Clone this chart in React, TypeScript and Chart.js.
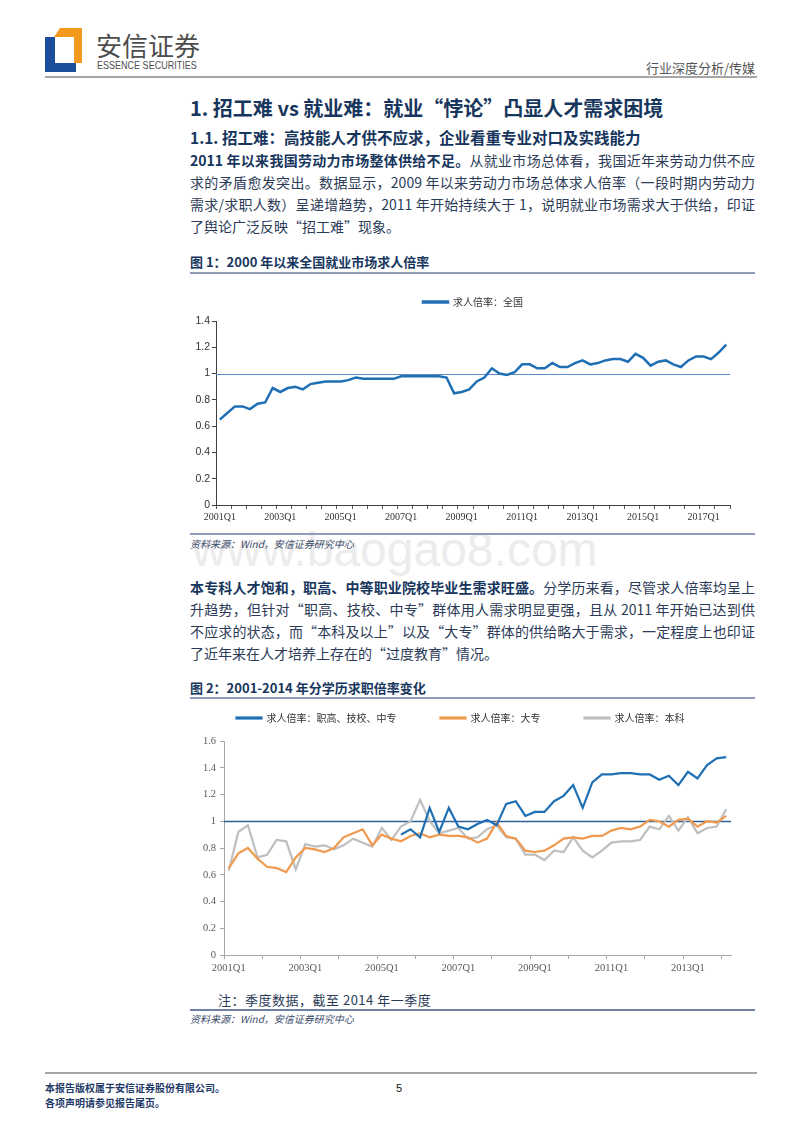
import React, { useEffect, useRef } from "react";
import { Chart, registerables } from "chart.js";

Chart.register(...registerables);

// ---------------- data ----------------
const QUARTERS: string[] = [
  "2001Q1", "2001Q2", "2001Q3", "2001Q4",
  "2002Q1", "2002Q2", "2002Q3", "2002Q4",
  "2003Q1", "2003Q2", "2003Q3", "2003Q4",
  "2004Q1", "2004Q2", "2004Q3", "2004Q4",
  "2005Q1", "2005Q2", "2005Q3", "2005Q4",
  "2006Q1", "2006Q2", "2006Q3", "2006Q4",
  "2007Q1", "2007Q2", "2007Q3", "2007Q4",
  "2008Q1", "2008Q2", "2008Q3", "2008Q4",
  "2009Q1", "2009Q2", "2009Q3", "2009Q4",
  "2010Q1", "2010Q2", "2010Q3", "2010Q4",
  "2011Q1", "2011Q2", "2011Q3", "2011Q4",
  "2012Q1", "2012Q2", "2012Q3", "2012Q4",
  "2013Q1", "2013Q2", "2013Q3", "2013Q4",
  "2014Q1", "2014Q2", "2014Q3", "2014Q4",
  "2015Q1", "2015Q2", "2015Q3", "2015Q4",
  "2016Q1", "2016Q2", "2016Q3", "2016Q4",
  "2017Q1", "2017Q2", "2017Q3", "2017Q4",
];

const NATIONAL_LABEL = "求人倍率：全国";
const NATIONAL_RATIO: number[] = [
  0.65, 0.70, 0.75, 0.75,
  0.73, 0.77, 0.78, 0.89,
  0.86, 0.89, 0.90, 0.88,
  0.92, 0.93, 0.94, 0.94,
  0.94, 0.95, 0.97, 0.96,
  0.96, 0.96, 0.96, 0.96,
  0.98, 0.98, 0.98, 0.98,
  0.98, 0.98, 0.97, 0.85,
  0.86, 0.88, 0.94, 0.97,
  1.04, 1.00, 0.99, 1.01,
  1.07, 1.07, 1.04, 1.04,
  1.08, 1.05, 1.05, 1.08,
  1.10, 1.07, 1.08, 1.10,
  1.11, 1.11, 1.09, 1.15,
  1.12, 1.06, 1.09, 1.10,
  1.07, 1.05, 1.10, 1.13,
  1.13, 1.11, 1.16, 1.22,
];

// 2001Q1 – 2014Q1
const EDU_QUARTERS: string[] = QUARTERS.slice(0, 53);

const VOCATIONAL_LABEL = "求人倍率：职高、技校、中专";
const VOCATIONAL: (number | null)[] = [
  null, null, null, null,
  null, null, null, null,
  null, null, null, null,
  null, null, null, null,
  null, null, 0.90, 0.94,
  0.88, 1.10, 0.92, 1.10,
  0.96, 0.94, 0.98, 1.01,
  0.97, 1.13, 1.15, 1.04,
  1.07, 1.07, 1.15, 1.19,
  1.27, 1.10, 1.29, 1.35,
  1.35, 1.36, 1.36, 1.35,
  1.35, 1.31, 1.34, 1.27,
  1.37, 1.32, 1.42, 1.47,
  1.48,
];

const COLLEGE_LABEL = "求人倍率：大专";
const COLLEGE: number[] = [
  0.65, 0.76, 0.80, 0.72,
  0.66, 0.65, 0.62, 0.73,
  0.80, 0.79, 0.77, 0.80,
  0.88, 0.91, 0.94, 0.82,
  0.90, 0.87, 0.85, 0.89,
  0.91, 0.88, 0.90, 0.89,
  0.89, 0.88, 0.84, 0.87,
  0.99, 0.89, 0.87, 0.78,
  0.77, 0.78, 0.82, 0.87,
  0.88, 0.87, 0.89, 0.89,
  0.93, 0.95, 0.94, 0.96,
  1.01, 1.00, 0.96, 1.01,
  1.02, 0.96, 1.00, 0.99,
  1.04,
];

const BACHELOR_LABEL = "求人倍率：本科";
const BACHELOR: number[] = [
  0.63, 0.92, 0.97, 0.73,
  0.75, 0.86, 0.85, 0.64,
  0.83, 0.81, 0.82, 0.79,
  0.82, 0.87, 0.84, 0.81,
  0.95, 0.86, 0.96, 1.00,
  1.16, 1.00, 0.91, 0.93,
  0.95, 0.87, 0.88, 0.94,
  0.97, 0.88, 0.87, 0.75,
  0.75, 0.71, 0.78, 0.77,
  0.88, 0.78, 0.73, 0.78,
  0.84, 0.85, 0.85, 0.86,
  0.96, 0.94, 1.04, 0.93,
  1.03, 0.91, 0.95, 0.96,
  1.09,
];

const REFERENCE_LEVEL = 1;
const CHART1_Y_MAX = 1.4;
const CHART2_Y_MAX = 1.6;
const Y_STEP = 0.2;
const LABEL_EVERY = 8;

// ---------------- styles ----------------
const CN = '"Noto Sans CJK SC", "Liberation Sans", sans-serif';
const SANS = '"Liberation Sans", Arial, sans-serif';
const SERIF = '"Liberation Serif", "Times New Roman", serif';
const NAVY = "#17365d";
const BODY = "#2c3b57";
const BLUE = "#1f6fb4";
const ORANGE = "#ef9a4f";
const GRAY = "#bfbfbf";

function refLinePlugin(id: string, value: number, color: string, width: number) {
  return {
    id,
    beforeDatasetsDraw(chart: any) {
      const { ctx, chartArea, scales } = chart;
      const y = Math.round(scales.y.getPixelForValue(value)) + 0.5;
      ctx.save();
      ctx.strokeStyle = color;
      ctx.lineWidth = width;
      ctx.beginPath();
      ctx.moveTo(chartArea.left, y);
      ctx.lineTo(chartArea.right, y);
      ctx.stroke();
      ctx.restore();
    },
  };
}

function legendGapPlugin(id: string, extra: number) {
  return {
    id,
    beforeLayout(chart: any) {
      const lg = chart.legend;
      if (lg && !lg.__gapPatched) {
        const orig = lg.fit.bind(lg);
        lg.fit = function () {
          orig();
          this.height += extra;
        };
        lg.__gapPatched = true;
      }
    },
  };
}

const fmt = (v: any) => String(Math.round(Number(v) * 10) / 10);

function NationalChart() {
  const ref = useRef<HTMLCanvasElement | null>(null);
  useEffect(() => {
    if (!ref.current) return;
    const chart = new Chart(ref.current, {
      type: "line",
      data: {
        labels: QUARTERS,
        datasets: [
          {
            label: NATIONAL_LABEL,
            data: NATIONAL_RATIO,
            borderColor: BLUE,
            backgroundColor: BLUE,
            borderWidth: 2.5,
            pointRadius: 0,
            tension: 0,
          },
        ],
      },
      options: {
        responsive: false,
        animation: false,
        layout: { padding: { left: 0, right: 10, top: 0, bottom: 2 } },
        plugins: {
          legend: {
            display: true,
            position: "top",
            fullSize: false,
            labels: {
              boxWidth: 25,
              boxHeight: 1,
              padding: 10,
              color: "#333333",
              font: { family: CN, size: 10 },
            },
          },
          tooltip: { enabled: false },
        },
        scales: {
          x: {
            offset: true,
            grid: {
              offset: true,
              drawOnChartArea: false,
              drawTicks: true,
              tickLength: 4,
              color: (c: any) =>
                c.index === undefined || c.index % 2 === 0 ? "#595959" : "rgba(0,0,0,0)",
            },
            border: { display: true, color: "#404040", width: 1 },
            ticks: {
              autoSkip: false,
              maxRotation: 0,
              minRotation: 0,
              padding: 2,
              color: "#333333",
              font: { family: SERIF, size: 10 },
              callback: (_v: any, i: number) => (i % LABEL_EVERY === 0 ? QUARTERS[i] : ""),
            },
            afterFit: (s: any) => {
              s.height = 23;
            },
          },
          y: {
            min: 0,
            max: CHART1_Y_MAX,
            grid: { drawOnChartArea: false, tickLength: 4, color: "#404040" },
            border: { display: true, color: "#404040", width: 1 },
            ticks: {
              stepSize: Y_STEP,
              padding: 2,
              color: "#333333",
              font: { family: SANS, size: 10.5 },
              callback: fmt,
            },
            afterFit: (s: any) => {
              s.width = 26;
            },
          },
        },
      } as any,
      plugins: [refLinePlugin("ref1", REFERENCE_LEVEL, "#5b8ec8", 1.2), legendGapPlugin("gap1", 4)],
    } as any);
    return () => chart.destroy();
  }, []);
  return (
    <canvas
      ref={ref}
      width={550}
      height={243}
      style={{ position: "absolute", left: 190, top: 287, width: 550, height: 243 }}
    />
  );
}

function EducationChart() {
  const ref = useRef<HTMLCanvasElement | null>(null);
  useEffect(() => {
    if (!ref.current) return;
    const common = { borderWidth: 2.2, pointRadius: 0, tension: 0 };
    const chart = new Chart(ref.current, {
      type: "line",
      data: {
        labels: EDU_QUARTERS,
        datasets: [
          { label: VOCATIONAL_LABEL, data: VOCATIONAL, borderColor: BLUE, backgroundColor: BLUE, ...common },
          { label: COLLEGE_LABEL, data: COLLEGE, borderColor: ORANGE, backgroundColor: ORANGE, ...common },
          { label: BACHELOR_LABEL, data: BACHELOR, borderColor: GRAY, backgroundColor: GRAY, ...common },
        ],
      },
      options: {
        responsive: false,
        animation: false,
        layout: { padding: { left: 0, right: 9, top: 0, bottom: 2 } },
        plugins: {
          legend: {
            display: true,
            position: "top",
            labels: {
              boxWidth: 25,
              boxHeight: 1,
              padding: 44,
              color: "#333333",
              font: { family: CN, size: 10 },
            },
          },
          tooltip: { enabled: false },
        },
        scales: {
          x: {
            offset: true,
            grid: {
              offset: true,
              drawOnChartArea: false,
              drawTicks: true,
              tickLength: 4,
              color: (c: any) =>
                c.index !== undefined && c.index % 4 === 0 ? "#a6a6a6" : "rgba(0,0,0,0)",
            },
            border: { display: true, color: "#a6a6a6", width: 1 },
            ticks: {
              autoSkip: false,
              maxRotation: 0,
              minRotation: 0,
              padding: 3,
              color: "#595959",
              font: { family: SERIF, size: 10.5 },
              callback: (_v: any, i: number) => (i % LABEL_EVERY === 0 ? EDU_QUARTERS[i] : ""),
            },
            afterFit: (s: any) => {
              s.height = 23;
            },
          },
          y: {
            min: 0,
            max: CHART2_Y_MAX,
            grid: { drawOnChartArea: false, tickLength: 4, color: "#a6a6a6" },
            border: { display: true, color: "#a6a6a6", width: 1 },
            ticks: {
              stepSize: Y_STEP,
              padding: 4,
              color: "#595959",
              font: { family: SERIF, size: 10.5 },
              callback: fmt,
            },
            afterFit: (s: any) => {
              s.width = 34;
            },
          },
        },
      } as any,
      plugins: [refLinePlugin("ref2", REFERENCE_LEVEL, "#2e6096", 1.3), legendGapPlugin("gap2", 8)],
    } as any);
    return () => chart.destroy();
  }, []);
  return (
    <canvas
      ref={ref}
      width={550}
      height={311}
      style={{ position: "absolute", left: 190, top: 669, width: 550, height: 311 }}
    />
  );
}

type TProps = {
  x: number;
  y: number;
  w?: number;
  size: number;
  color?: string;
  bold?: boolean;
  italic?: boolean;
  justify?: boolean;
  align?: "left" | "right" | "center";
  family?: string;
  ls?: number;
  sx?: number;
  children: React.ReactNode;
};

function T({ x, y, w, size, color, bold, italic, justify, align, family, ls, sx, children }: TProps) {
  const lh = Math.round(size * 1.5);
  const a = justify ? "justify" : align || "left";
  return (
    <div
      style={{
        position: "absolute",
        left: x,
        top: y - lh / 2,
        width: w,
        height: lh,
        fontSize: size,
        lineHeight: lh + "px",
        color: color || BODY,
        fontWeight: bold ? 700 : 400,
        fontStyle: italic ? "italic" : "normal",
        whiteSpace: "nowrap",
        textAlign: a as any,
        textAlignLast: a as any,
        fontFamily: family || CN,
        letterSpacing: ls,
        transform: sx ? `scaleX(${sx})` : undefined,
        transformOrigin: "left center",
      }}
    >
      {children}
    </div>
  );
}

function Rule({ x, y, w, h, color }: { x: number; y: number; w: number; h: number; color: string }) {
  return <div style={{ position: "absolute", left: x, top: y, width: w, height: h, background: color }} />;
}

const B = ({ children }: { children: React.ReactNode }) => (
  <span style={{ fontWeight: 700, color: NAVY }}>{children}</span>
);

export default function App() {
  const PX = 190;
  const PW = 565;
  const PS = 14;
  return (
    <div
      style={{
        position: "absolute",
        left: 0,
        top: 0,
        width: 800,
        height: 1132,
        background: "#ffffff",
        overflow: "hidden",
        fontFamily: CN,
      }}
    >
      {/* watermark */}
      <div
        style={{
          position: "absolute",
          left: 192,
          top: 526,
          fontFamily: SANS,
          fontSize: 48,
          lineHeight: "48px",
          color: "#ececec",
          whiteSpace: "nowrap",
        }}
      >
        www.baogao8.com
      </div>

      {/* logo */}
      <div
        style={{
          position: "absolute",
          left: 45,
          top: 28,
          width: 40,
          height: 44,
          background: "#1b4f9c",
          clipPath: "polygon(0px 9px, 10px 9px, 10px 35px, 31px 35px, 31px 44px, 0px 44px)",
        }}
      />
      <div
        style={{
          position: "absolute",
          left: 45,
          top: 28,
          width: 40,
          height: 44,
          background: "#f39a1e",
          clipPath: "polygon(15px 0px, 37px 0px, 37px 35px, 29px 35px, 29px 9px, 9px 9px)",
        }}
      />
      <T x={96} y={44} size={26} color="#4d4d4d" family={CN}>
        安信证券
      </T>
      <T x={97} y={65} size={11} color="#4d4d4d" family={SANS} sx={0.82}>
        ESSENCE SECURITIES
      </T>
      <T x={555} y={68} w={200} size={13} color="#555555" align="right">
        行业深度分析/传媒
      </T>
      <Rule x={45} y={76} w={712} h={2} color="#a6a6a6" />

      {/* headings */}
      <T x={PX} y={108} size={20} bold color={NAVY}>
        1. 招工难 vs 就业难：就业“悖论”凸显人才需求困境
      </T>
      <T x={PX} y={137} size={15.5} bold color={NAVY}>
        1.1. 招工难：高技能人才供不应求，企业看重专业对口及实践能力
      </T>

      {/* paragraph 1 */}
      <T x={PX} y={160} w={PW} size={PS} justify>
        <B>2011 年以来我国劳动力市场整体供给不足。</B>从就业市场总体看，我国近年来劳动力供不应
      </T>
      <T x={PX} y={182} w={PW} size={PS} justify>
        求的矛盾愈发突出。数据显示，2009 年以来劳动力市场总体求人倍率（一段时期内劳动力
      </T>
      <T x={PX} y={204} w={PW} size={PS} justify>
        需求/求职人数）呈递增趋势，2011 年开始持续大于 1，说明就业市场需求大于供给，印证
      </T>
      <T x={PX} y={226} size={PS}>
        了舆论广泛反映“招工难”现象。
      </T>

      {/* figure 1 */}
      <T x={PX} y={262} size={13} bold color={NAVY}>
        图 1：2000 年以来全国就业市场求人倍率
      </T>
      <Rule x={PX} y={272} w={PW} h={2} color="#8d9cb8" />
      <NationalChart />
      <Rule x={PX} y={533} w={PW} h={2} color="#8d9cb8" />
      <T x={PX} y={543} size={10} italic color="#3b4b6b">
        资料来源：Wind，安信证券研究中心
      </T>

      {/* paragraph 2 */}
      <T x={PX} y={587} w={PW} size={PS} justify>
        <B>本专科人才饱和，职高、中等职业院校毕业生需求旺盛。</B>分学历来看，尽管求人倍率均呈上
      </T>
      <T x={PX} y={609} w={PW} size={PS} justify>
        升趋势，但针对“职高、技校、中专”群体用人需求明显更强，且从 2011 年开始已达到供
      </T>
      <T x={PX} y={631} w={PW} size={PS} justify>
        不应求的状态，而“本科及以上”以及“大专”群体的供给略大于需求，一定程度上也印证
      </T>
      <T x={PX} y={653} size={PS}>
        了近年来在人才培养上存在的“过度教育”情况。
      </T>

      {/* figure 2 */}
      <T x={PX} y={688} size={13} bold color={NAVY}>
        图 2：2001-2014 年分学历求职倍率变化
      </T>
      <Rule x={PX} y={697} w={PW} h={2} color="#8d9cb8" />
      <EducationChart />
      <T x={218} y={1000} size={13} color={BODY} ls={0.5}>
        注：季度数据，截至 2014 年一季度
      </T>
      <Rule x={PX} y={1009} w={PW} h={2} color="#6f82a3" />
      <T x={PX} y={1018} size={10} italic color="#3b4b6b">
        资料来源：Wind，安信证券研究中心
      </T>

      {/* footer */}
      <Rule x={45} y={1072} w={712} h={2} color="#a6a6a6" />
      <T x={45} y={1087} size={10} bold color="#1f3a68">
        本报告版权属于安信证券股份有限公司。
      </T>
      <T x={45} y={1102} size={10} bold color="#1f3a68">
        各项声明请参见报告尾页。
      </T>
      <T x={396} y={1088} size={11} color="#111111" family={SANS}>
        5
      </T>
    </div>
  );
}
